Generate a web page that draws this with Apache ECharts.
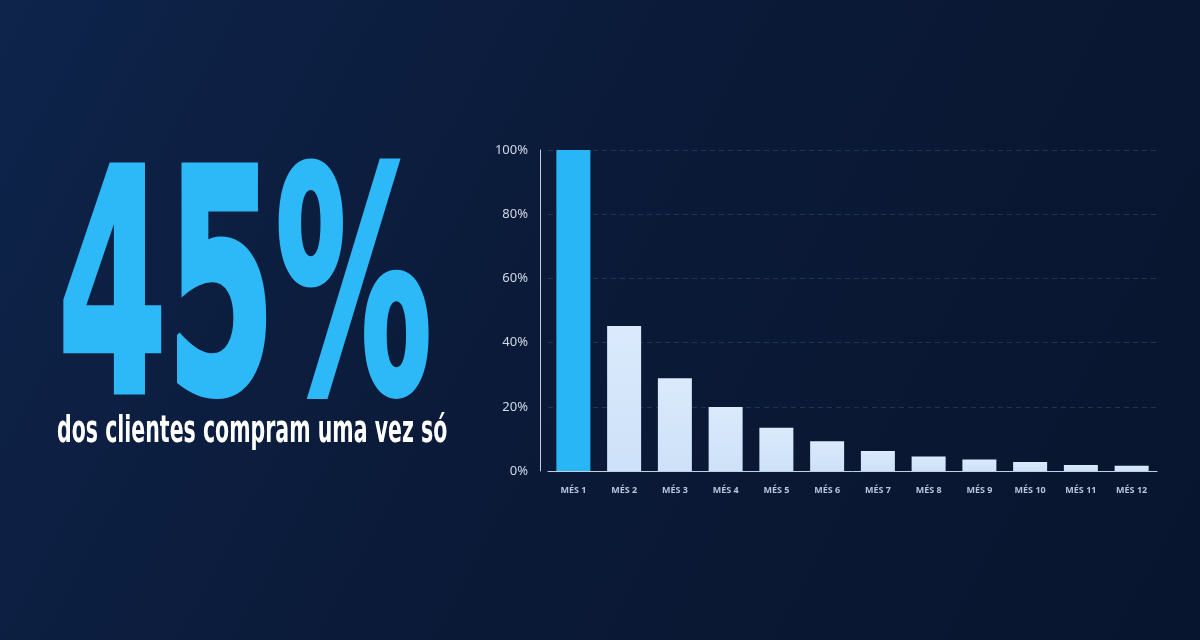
<!DOCTYPE html>
<html>
<head>
<meta charset="utf-8">
<script src="https://cdn.jsdelivr.net/npm/echarts@6/dist/echarts.min.js"></script>
<style>
  html, body { margin: 0; padding: 0; background: #0a1833; }
  #chart { width: 1200px; height: 640px; }
</style>
</head>
<body>
<div id="chart"></div>
<script>
// retenção por mês (% de clientes que voltam a comprar)
var meses = ['MÉS 1', 'MÉS 2', 'MÉS 3', 'MÉS 4', 'MÉS 5', 'MÉS 6', 'MÉS 7', 'MÉS 8', 'MÉS 9', 'MÉS 10', 'MÉS 11', 'MÉS 12'];
var retencao = [100, 45.2, 28.9, 19.9, 13.5, 9.3, 6.2, 4.5, 3.6, 2.8, 1.9, 1.6];
var destaque = '45%';
var subtitulo = 'dos clientes compram uma vez só';

var dom = document.getElementById('chart');
var chart = echarts.init(dom);

var barData = retencao.map(function (v, i) {
    if (i === 0) {
        return { value: v, itemStyle: { color: '#29b6f6' } };
    }
    return v;
});

var option = {
    animation: false,
    backgroundColor: new echarts.graphic.LinearGradient(0, 0, 1, 1, [
        { offset: 0, color: '#0e244b' },
        { offset: 0.45, color: '#0b1a38' },
        { offset: 1, color: '#08152e' }
    ]),
    graphic: [
        {
            type: 'text',
            x: 58,
            y: 311,
            scaleX: 0.56,
            style: {
                x: 0, y: 0,
                text: destaque,
                fill: '#2db9f7',
                stroke: '#2db9f7',
                lineWidth: 6,
                lineJoin: 'round',
                font: 'bold 310px "DejaVu Sans Condensed"',
                textAlign: 'left',
                verticalAlign: 'middle'
            }
        },
        {
            type: 'text',
            x: 57,
            y: 432,
            scaleX: 0.6,
            style: {
                x: 0, y: 0,
                text: subtitulo,
                fill: '#ffffff',
                font: 'bold 38px "DejaVu Sans Condensed"',
                textAlign: 'left',
                verticalAlign: 'middle'
            }
        }
    ],
    grid: {
        left: 548,
        right: 43,
        top: 150,
        bottom: 169
    },
    xAxis: {
        type: 'category',
        data: meses,
        axisLine: { lineStyle: { color: '#c3cee0', width: 1 } },
        axisTick: { show: false },
        axisLabel: {
            color: '#b7c4da',
            fontSize: 9,
            fontWeight: 'bold',
            fontFamily: 'Noto Sans',
            margin: 15
        }
    },
    yAxis: {
        type: 'value',
        min: 0,
        max: 100,
        interval: 20,
        offset: 8,
        axisLine: { show: true, lineStyle: { color: '#c3cee0', width: 1 } },
        axisTick: { show: false },
        axisLabel: {
            formatter: '{value}%',
            color: '#d2d9e6',
            fontSize: 13,
            fontFamily: 'Noto Sans',
            margin: 12
        },
        splitLine: {
            lineStyle: { color: 'rgba(120,150,200,0.22)', type: [5, 4] }
        }
    },
    series: [{
        type: 'bar',
        data: barData,
        barWidth: 34,
        itemStyle: {
            color: new echarts.graphic.LinearGradient(0, 0, 0, 1, [
                { offset: 0, color: '#dbeafc' },
                { offset: 1, color: '#cde1f8' }
            ])
        }
    }]
};

chart.setOption(option, true);
</script>
</body>
</html>
